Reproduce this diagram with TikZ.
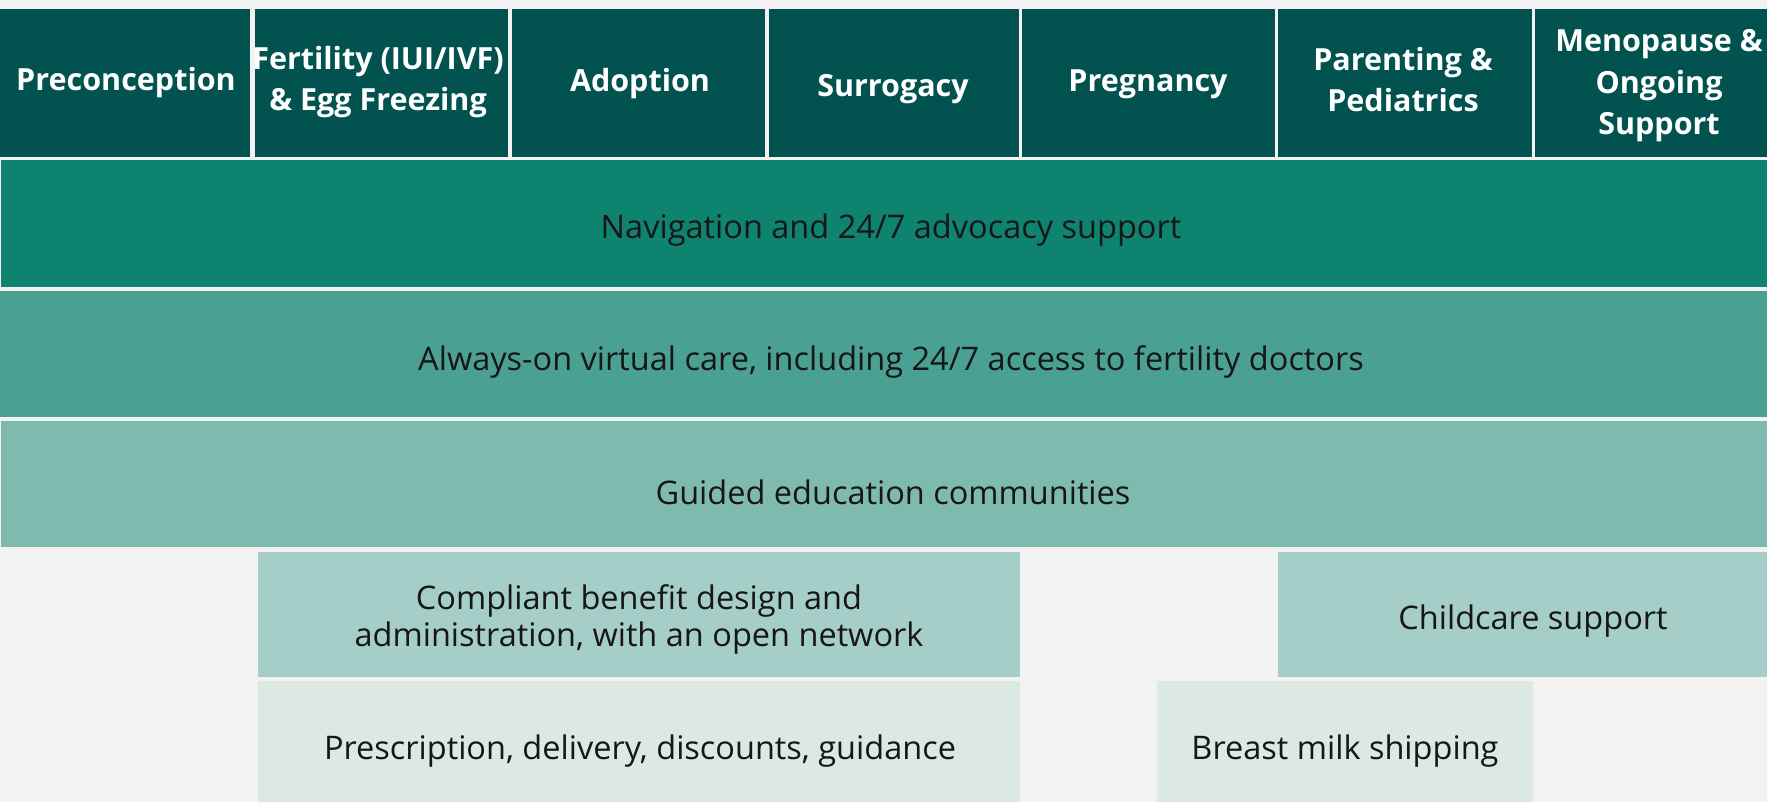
\documentclass[tikz,border=0pt]{standalone}
\usepackage{fontspec}
\setmainfont{Open Sans}
\definecolor{bgc}{HTML}{F2F2F2}
\definecolor{hdr}{HTML}{025350}
\definecolor{bandA}{HTML}{0E8470}
\definecolor{bandB}{HTML}{4AA193}
\definecolor{bandC}{HTML}{7FBAAF}
\definecolor{rowD}{HTML}{A6CEC8}
\definecolor{rowE}{HTML}{DCE8E2}
\definecolor{txt}{HTML}{161616}
\tikzset{
  hdrtext/.style={text=white, align=center, anchor=base, font=\fontsize{30.5}{41.5}\selectfont\bfseries, inner sep=0pt},
  bodytext/.style={text=txt, align=center, anchor=base, font=\fontsize{32.5}{37}\selectfont, inner sep=0pt},
}
\begin{document}
\begin{tikzpicture}[x=1pt,y=-1pt]
\useasboundingbox (0,0) rectangle (1767,802);
\fill[bgc] (0,0) rectangle (1767,802);
% header cells
\fill[hdr] (0,9) rectangle (250,157);
\fill[hdr] (255,9) rectangle (508,157);
\fill[hdr] (512,9) rectangle (765,157);
\fill[hdr] (769,9) rectangle (1019,157);
\fill[hdr] (1022,9) rectangle (1275,157);
\fill[hdr] (1278,9) rectangle (1532,157);
\fill[hdr] (1535,9) rectangle (1767,157);
% bands
\fill[bandA] (1,160) rectangle (1767,287);
\fill[bandB] (0,291) rectangle (1767,417);
\fill[bandC] (1,421) rectangle (1767,547);
% row 4
\fill[rowD] (258,552) rectangle (1020,677);
\fill[rowD] (1278,552) rectangle (1767,677);
% row 5
\fill[rowE] (258,681) rectangle (1020,802);
\fill[rowE] (1157,681) rectangle (1533,802);
% header labels (base = last line baseline)
\node[hdrtext] (h1) at (126,91) {Preconception};
\node[hdrtext] (h2) at (378,111) {Fertility (IUI/IVF)\\\& Egg Freezing};
\node[hdrtext] (h3) at (640,92) {Adoption};
\node[hdrtext] (h4) at (893,97) {Surrogacy};
\node[hdrtext] (h5) at (1148,92) {Pregnancy};
\node[hdrtext] (h6) at (1403,112) {Parenting \&\\Pediatrics};
\node[hdrtext] (h7) at (1659,135) {Menopause \&\\Ongoing\\Support};
% band labels
\node[bodytext] (b1) at (891,238.5) {Navigation and 24/7 advocacy support};
\node[bodytext] (b2) at (891,370.5) {Always-on virtual care, including 24/7 access to fertility doctors};
\node[bodytext] (b3) at (893,504) {Guided education communities};
\node[bodytext] (r1) at (639,646) {Compliant benefit design and\\administration, with an open network};
\node[bodytext] (r2) at (1533,629) {Childcare support};
\node[bodytext] (r3) at (640,759) {Prescription, delivery, discounts, guidance};
\node[bodytext] (r4) at (1345,759) {Breast milk shipping};
\end{tikzpicture}
\end{document}
